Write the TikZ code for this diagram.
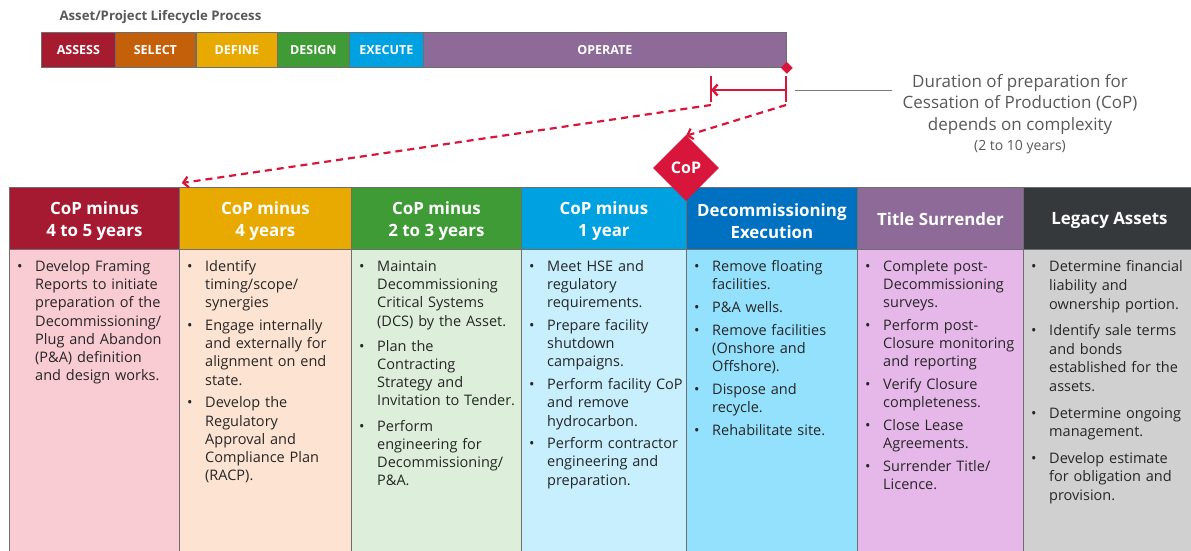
\documentclass[tikz,border=0pt]{standalone}
\usepackage{fontspec}
\setmainfont{Open Sans}
\usetikzlibrary{shapes.geometric,arrows.meta}

% phase colours
\definecolor{cAssess}{HTML}{A51C30}
\definecolor{cSelect}{HTML}{C5600A}
\definecolor{cDefine}{HTML}{E8A900}
\definecolor{cDesign}{HTML}{3E9B35}
\definecolor{cExecute}{HTML}{00A1E0}
\definecolor{cOperate}{HTML}{8D6A97}
% column header colours
\definecolor{hOne}{HTML}{A51931}
\definecolor{hTwo}{HTML}{E8A900}
\definecolor{hThree}{HTML}{3E9B35}
\definecolor{hFour}{HTML}{00A1E0}
\definecolor{hFive}{HTML}{0070C0}
\definecolor{hSix}{HTML}{8D6A97}
\definecolor{hSeven}{HTML}{36393C}
% column body colours
\definecolor{bOne}{HTML}{F9CBD3}
\definecolor{bTwo}{HTML}{FDE3D1}
\definecolor{bThree}{HTML}{DDEFDA}
\definecolor{bFour}{HTML}{C8EFFD}
\definecolor{bFive}{HTML}{94E1FD}
\definecolor{bSix}{HTML}{E6B8E9}
\definecolor{bSeven}{HTML}{D0D0D0}
% misc
\definecolor{copRed}{HTML}{D8153A}
\definecolor{edgeGray}{HTML}{6E6E6E}
\definecolor{noteGray}{HTML}{595959}
\definecolor{bodyInk}{HTML}{262626}

% space between bulleted items
\newlength\itemgap
\setlength\itemgap{4.5pt}
% one bulleted item with hanging indent; \\ breaks a line inside the item
\newcommand\bul[1]{\par\begingroup\let\\\newline\hangindent=18pt\hangafter=1\noindent
  \makebox[18pt][l]{\textbullet}#1\par\endgroup\vspace{\itemgap}}

\begin{document}
\begin{tikzpicture}[x=1pt,y=-1pt,
  phase/.style={draw=edgeGray, line width=0.8pt, anchor=north west, minimum height=35pt,
    inner sep=0pt, text=white, font=\fontsize{12.5}{14}\selectfont\bfseries},
  colhead/.style={draw=edgeGray, line width=0.8pt, anchor=north west, minimum height=62pt, inner sep=0pt},
  headtext/.style={text=white, align=center, inner sep=0pt, font=\fontsize{16.9}{22}\selectfont\bfseries},
  colbody/.style={draw=edgeGray, line width=0.8pt, anchor=north west, minimum height=306pt, inner sep=0pt},
  bodytext/.style={anchor=north west, inner sep=0pt, text=bodyInk, align=left,
    font=\fontsize{14.5}{18.2}\selectfont},
  redline/.style={draw=copRed, line width=2.4pt},
  reddash/.style={draw=copRed, line width=2.2pt, dash pattern=on 7pt off 5pt},
  barb/.style={-{Straight Barb[length=5pt,width=11pt]}},
]
\useasboundingbox (0,0) rectangle (1191,551);
\fill[white] (0,0) rectangle (1191,551);

% lifecycle bar
\node[anchor=west, text=noteGray, font=\fontsize{13.2}{16}\selectfont\bfseries] (title) at (56,17.5) {Asset/Project Lifecycle Process};
\node[phase, fill=cAssess,  minimum width=74pt]  (assess)  at (41,32)  {ASSESS};
\node[phase, fill=cSelect,  minimum width=80pt]  (select)  at (115,32) {SELECT};
\node[phase, fill=cDefine,  minimum width=81pt]  (define)  at (196,32) {DEFINE};
\node[phase, fill=cDesign,  minimum width=72pt]  (design)  at (277,32) {DESIGN};
\node[phase, fill=cExecute, minimum width=74pt]  (execute) at (349,32) {EXECUTE};
\node[phase, fill=cOperate, minimum width=363pt] (operate) at (423,32) {OPERATE};
\node[diamond, fill=copRed, minimum size=12pt, inner sep=0pt] (mark) at (operate.south east) {};

% column headers
\node[colhead, fill=hOne,   minimum width=170pt] (h1) at (9,187)    {};
\node[colhead, fill=hTwo,   minimum width=172pt] (h2) at (179,187)  {};
\node[colhead, fill=hThree, minimum width=170pt] (h3) at (351,187)  {};
\node[colhead, fill=hFour,  minimum width=165pt] (h4) at (521,187)  {};
\node[colhead, fill=hFive,  minimum width=171pt] (h5) at (686,187)  {};
\node[colhead, fill=hSix,   minimum width=166pt] (h6) at (857,187)  {};
\node[colhead, fill=hSeven, minimum width=172pt] (h7) at (1023,187) {};
\node[headtext] (l1) at ([yshift=-2.5pt]h1.center) {CoP minus\\4 to 5 years};
\node[headtext] (l2) at ([yshift=-2.5pt]h2.center) {CoP minus\\4 years};
\node[headtext] (l3) at ([yshift=-2.5pt]h3.center) {CoP minus\\2 to 3 years};
\node[headtext] (l4) at ([yshift=-2.5pt]h4.center) {CoP minus\\1 year};
\node[headtext] (l5) at ([yshift=-2.5pt]h5.center) {Decommissioning\\Execution};
\node[headtext] (l6) at ([yshift=-1pt]h6.center) {Title Surrender};
\node[headtext] (l7) at ([yshift=-2.5pt]h7.center) {Legacy Assets};

% column bodies
\node[colbody, fill=bOne,   minimum width=170pt] (b1) at (9,249)    {};
\node[colbody, fill=bTwo,   minimum width=172pt] (b2) at (179,249)  {};
\node[colbody, fill=bThree, minimum width=170pt] (b3) at (351,249)  {};
\node[colbody, fill=bFour,  minimum width=165pt] (b4) at (521,249)  {};
\node[colbody, fill=bFive,  minimum width=171pt] (b5) at (686,249)  {};
\node[colbody, fill=bSix,   minimum width=166pt] (b6) at (857,249)  {};
\node[colbody, fill=bSeven, minimum width=172pt] (b7) at (1023,249) {};

\node[bodytext, text width=160pt] (t1) at ([xshift=8pt,yshift=-4pt]b1.north west) {%
  \bul{Develop Framing\\Reports to initiate\\preparation of the\\Decommissioning/\\Plug and Abandon\\(P\&A) definition\\and design works.}};
\node[bodytext, text width=162pt] (t2) at ([xshift=8pt,yshift=-4pt]b2.north west) {%
  \bul{Identify\\timing/scope/\\synergies}%
  \bul{Engage internally\\and externally for\\alignment on end\\state.}%
  \bul{Develop the\\Regulatory\\Approval and\\Compliance Plan\\(RACP).}};
\node[bodytext, text width=160pt] (t3) at ([xshift=8pt,yshift=-4pt]b3.north west) {%
  \setlength\itemgap{7pt}%
  \bul{Maintain\\Decommissioning\\Critical Systems\\(DCS) by the Asset.}%
  \bul{Plan the\\Contracting\\Strategy and\\Invitation to Tender.}%
  \bul{Perform\\engineering for\\Decommissioning/\\P\&A.}};
\node[bodytext, text width=160pt] (t4) at ([xshift=8pt,yshift=-4pt]b4.north west) {%
  \bul{Meet HSE and\\regulatory\\requirements.}%
  \bul{Prepare facility\\shutdown\\campaigns.}%
  \bul{Perform facility CoP\\and remove\\hydrocarbon.}%
  \bul{Perform contractor\\engineering and\\preparation.}};
\node[bodytext, text width=160pt] (t5) at ([xshift=8pt,yshift=-4pt]b5.north west) {%
  \bul{Remove floating\\facilities.}%
  \bul{P\&A wells.}%
  \bul{Remove facilities\\(Onshore and\\Offshore).}%
  \bul{Dispose and\\recycle.}%
  \bul{Rehabilitate site.}};
\node[bodytext, text width=160pt] (t6) at ([xshift=8pt,yshift=-4pt]b6.north west) {%
  \bul{Complete post-\\Decommissioning\\surveys.}%
  \bul{Perform post-\\Closure monitoring\\and reporting}%
  \bul{Verify Closure\\completeness.}%
  \bul{Close Lease\\Agreements.}%
  \bul{Surrender Title/\\Licence.}};
\node[bodytext, text width=160pt, font=\fontsize{14.5}{18.6}\selectfont] (t7) at ([xshift=8pt,yshift=-4pt]b7.north west) {%
  \setlength\itemgap{8pt}%
  \bul{Determine financial\\liability and\\ownership portion.}%
  \bul{Identify sale terms\\and bonds\\established for the\\assets.}%
  \bul{Determine ongoing\\management.}%
  \bul{Develop estimate\\for obligation and\\provision.}};

% CoP milestone
\node[diamond, fill=copRed, minimum size=66pt, inner sep=0pt, text=white,
  font=\fontsize{16}{18}\selectfont\bfseries] (cop) at (686,168) {CoP};

% preparation duration bracket
\coordinate (tickRtop) at (786,76);
\coordinate (tickRbot) at (786,102);
\coordinate (tickLtop) at (711,76);
\coordinate (tickLbot) at (711,102);
\coordinate (midR) at (786,90);
\coordinate (midL) at (711,90);
\draw[redline] (tickRtop) -- (tickRbot);
\draw[redline] (tickLtop) -- (tickLbot);
\draw[redline, barb] (midR) -- (midL);

% note
\node[anchor=north, align=center, text=noteGray, font=\fontsize{17}{21.3}\selectfont] (note) at (1020,71)
  {Duration of preparation for\\Cessation of Production (CoP)\\depends on complexity\\[-1pt]{\fontsize{14}{16}\selectfont (2 to 10 years)}};
\coordinate (leadA) at (795,90);
\coordinate (leadB) at (892,90);
\draw[draw=noteGray!80, line width=0.8pt] (leadA) -- (leadB);

% dashed links down to the phases
\draw[reddash, barb] ([yshift=-3pt]tickLbot) -- ([xshift=2pt,yshift=4pt]h1.north east);
\draw[reddash, barb] ([yshift=-3pt]tickRbot) -- ([yshift=-1pt]cop.north);
\end{tikzpicture}
\end{document}
